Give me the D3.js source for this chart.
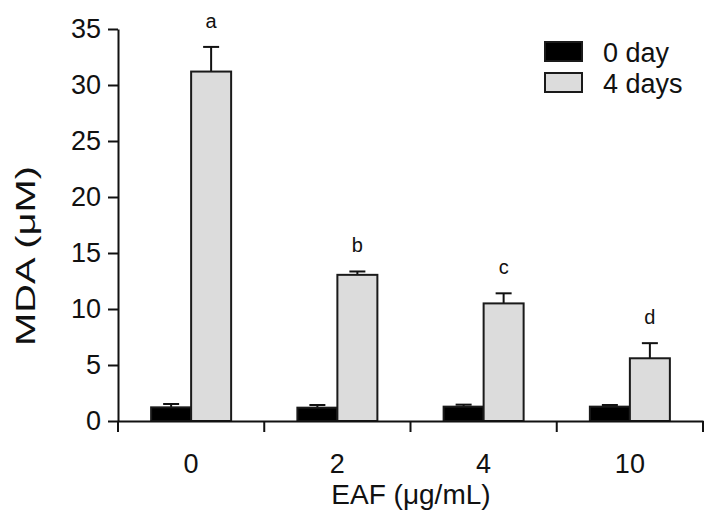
<!DOCTYPE html>
<html><head><meta charset="utf-8">
<script src="https://cdn.jsdelivr.net/npm/d3@7"></script>
<style>body{margin:0;background:#fff}text{font-family:"Liberation Sans",Arial,sans-serif;fill:#111}</style>
</head><body><svg id="c" width="719" height="528"></svg>
<script>
const categories = ["0", "2", "4", "10"];
const seriesNames = ["0 day", "4 days"];
const day0 = [1.22, 1.19, 1.28, 1.28];
const day0Err = [0.30, 0.24, 0.18, 0.15];
const day4 = [31.2, 13.05, 10.5, 5.6];
const day4Err = [2.2, 0.3, 0.9, 1.35];
const letters = ["a", "b", "c", "d"];
const yTicks = [0, 5, 10, 15, 20, 25, 30, 35];

const svg = d3.select("#c");
const L = 118, R = 703, T = 29, B = 421;
const x = d3.scaleBand().domain(categories).range([L, R]).paddingInner(0).paddingOuter(0);
const x1 = d3.scaleBand().domain(seriesNames).range([0, 80]);
const off = (x.bandwidth() - 80) / 2;
const y = d3.scaleLinear().domain([0, 35]).range([B, T]);
const fills = ["#000", "#dcdcdc"];

const data = categories.map((c, i) => ({c, vals: [
  {s: seriesNames[0], v: day0[i], e: day0Err[i]},
  {s: seriesNames[1], v: day4[i], e: day4Err[i]}], letter: letters[i]}));

const g = svg.append("g");
data.forEach((d, i) => {
  d.vals.forEach((b, j) => {
    const bx = x(d.c) + off + x1(b.s);
    const cx = bx + x1.bandwidth() / 2;
    g.append("line").attr("x1", cx).attr("x2", cx).attr("y1", y(b.v)).attr("y2", y(b.v + b.e))
      .attr("stroke", "#111").attr("stroke-width", 2);
    g.append("line").attr("x1", cx - 8).attr("x2", cx + 8).attr("y1", y(b.v + b.e)).attr("y2", y(b.v + b.e))
      .attr("stroke", "#111").attr("stroke-width", 2);
    g.append("rect").attr("x", bx).attr("y", y(b.v)).attr("width", x1.bandwidth()).attr("height", y(0) - y(b.v))
      .attr("fill", fills[j]).attr("stroke", "#1a1a1a").attr("stroke-width", 2);
    if (j === 1) {
      g.append("text").attr("x", cx).attr("y", y(b.v + b.e) - 19).attr("text-anchor", "middle")
        .attr("font-size", 20).text(d.letter);
    }
  });
});

// y axis
const ya = svg.append("g").attr("transform", `translate(${L},0)`)
  .call(d3.axisLeft(y).tickValues(yTicks).tickSize(10).tickPadding(7).tickSizeOuter(0));
ya.select(".domain").attr("stroke", "#111").attr("stroke-width", 2);
ya.selectAll(".tick line").attr("stroke", "#111").attr("stroke-width", 2);
ya.selectAll(".tick text").attr("font-size", 27).attr("font-family", "Liberation Sans, Arial, sans-serif").attr("fill", "#111");

// x axis
const xa = svg.append("g").attr("transform", `translate(0,${B})`)
  .call(d3.axisBottom(x).tickSize(0).tickPadding(33).tickSizeOuter(0));
xa.select(".domain").attr("stroke", "#111").attr("stroke-width", 2);
xa.selectAll(".tick text").attr("font-size", 27).attr("font-family", "Liberation Sans, Arial, sans-serif").attr("fill", "#111");
const bounds = categories.map(c => x(c)).concat([R]);
xa.selectAll(".bnd").data(bounds).enter().append("line").attr("class", "bnd")
  .attr("x1", d => d).attr("x2", d => d).attr("y1", 0).attr("y2", 11)
  .attr("stroke", "#111").attr("stroke-width", 2);

// axis titles
svg.append("text").attr("transform", "translate(35,256) rotate(-90)").attr("text-anchor", "middle")
  .attr("font-size", 27).attr("textLength", 180).attr("lengthAdjust", "spacingAndGlyphs").text("MDA (μM)");
svg.append("text").attr("x", 411).attr("y", 504).attr("text-anchor", "middle")
  .attr("font-size", 28).text("EAF (μg/mL)");

// legend
const lg = svg.append("g");
seriesNames.forEach((s, j) => {
  lg.append("rect").attr("x", 545).attr("y", 42 + j * 31).attr("width", 37).attr("height", 19)
    .attr("fill", fills[j]).attr("stroke", "#1a1a1a").attr("stroke-width", 2);
  lg.append("text").attr("x", 603).attr("y", 62 + j * 31).attr("font-size", 27).text(s);
});
</script></body></html>
